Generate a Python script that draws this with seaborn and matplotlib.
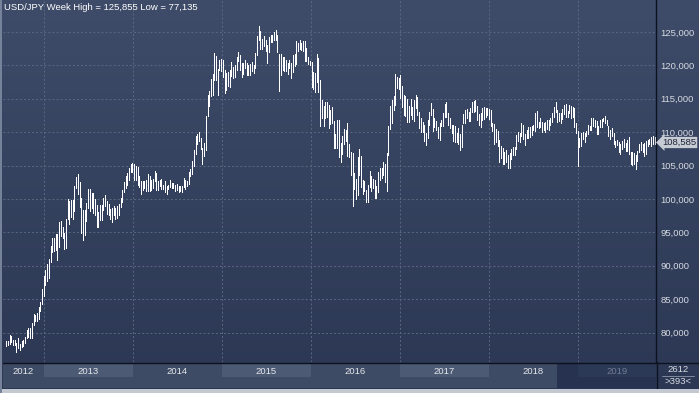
import numpy as np
import pandas as pd
import matplotlib
matplotlib.use("Agg")
import matplotlib.pyplot as plt
import matplotlib.dates as mdates
from matplotlib.colors import LinearSegmentedColormap
from matplotlib.patches import Rectangle
from matplotlib.lines import Line2D
import seaborn as sns

# USD/JPY weekly bars (high / low), first week starts 2012-07-30
start_week = "2012-07-30"

high_2012 = [78.75, 78.80, 79.65, 79.50, 78.90, 78.90, 78.40, 79.20, 78.30, 78.70, 78.90,
             79.30, 80.35, 80.70, 80.70, 81.50, 82.85, 82.60, 82.90, 83.90, 84.60, 86.60]
low_2012 = [77.95, 78.10, 78.30, 78.60, 78.20, 78.20, 77.135, 77.70, 77.40, 77.90, 78.00,
            78.40, 79.20, 79.40, 79.20, 79.20, 81.20, 81.70, 81.70, 82.10, 83.30, 84.30]

high_2013 = [88.40, 89.35, 90.20, 91.00, 92.95, 94.10, 94.20, 94.80, 94.75, 96.60, 96.70,
             95.75, 94.90, 97.05, 99.95, 99.70, 99.90, 99.90, 101.98, 103.30, 103.74, 102.50,
             100.10, 98.40, 98.30, 99.40, 101.55, 101.50, 100.90, 100.90, 99.95, 99.10, 98.05,
             99.15, 99.15, 100.20, 100.60, 99.70, 99.20, 98.50, 98.60, 99.00, 98.60, 98.90,
             99.30, 100.20, 101.40, 102.60, 103.40, 103.90, 104.60, 105.20, 105.45]
low_2013 = [85.50, 87.10, 87.80, 88.10, 90.50, 92.00, 92.20, 92.30, 90.85, 92.80, 94.50,
            94.10, 92.55, 92.60, 97.00, 96.20, 97.30, 97.00, 98.20, 101.60, 100.70, 98.85,
            94.95, 93.80, 94.60, 96.70, 98.70, 98.25, 98.60, 97.90, 97.60, 95.80, 95.80,
            96.80, 96.80, 98.40, 98.90, 97.75, 97.60, 96.95, 96.55, 97.60, 96.95, 97.15,
            97.60, 98.80, 99.60, 101.10, 101.60, 102.10, 102.80, 104.05, 104.05]

high_2014 = [105.20, 104.90, 104.85, 103.40, 102.70, 102.75, 102.75, 102.80, 103.75, 103.40,
             102.80, 103.00, 104.15, 103.85, 102.70, 102.85, 103.00, 102.15, 102.75, 101.90,
             102.05, 102.80, 102.35, 102.35, 102.10, 102.25, 102.00, 101.90, 102.00, 103.15,
             102.85, 102.65, 104.05, 104.50, 105.70, 107.40, 109.45, 109.75, 110.10, 109.10,
             107.70, 108.40, 112.50, 115.60, 116.10, 118.00, 118.70, 121.85, 121.40, 119.50,
             120.85, 121.00]
low_2014 = [102.85, 102.85, 102.10, 101.75, 100.75, 101.30, 101.65, 101.20, 101.20, 101.20,
            101.30, 101.70, 102.75, 101.30, 101.30, 101.90, 101.50, 101.45, 101.10, 100.80,
            101.45, 101.80, 101.60, 101.60, 101.25, 101.30, 101.10, 101.20, 101.10, 101.80,
            101.50, 101.90, 102.30, 103.50, 103.70, 104.90, 106.75, 108.30, 108.75, 107.50,
            105.20, 106.50, 107.40, 112.50, 113.85, 115.45, 115.50, 117.80, 117.80, 115.55,
            119.25, 119.10]

high_2015 = [120.80, 119.25, 118.90, 118.95, 119.25, 120.50, 119.75, 120.00, 121.30, 122.05,
             121.50, 120.40, 120.40, 120.85, 120.40, 120.10, 120.15, 120.50, 120.05, 121.85,
             124.45, 125.855, 125.10, 123.95, 124.45, 123.75, 123.00, 124.20, 124.60, 124.50,
             125.05, 125.30, 124.55, 121.70, 121.75, 121.30, 121.30, 120.75, 120.40, 120.75,
             120.35, 121.50, 121.75, 123.60, 123.35, 123.75, 123.35, 123.70, 123.60, 122.65,
             121.25, 120.70]
low_2015 = [118.25, 115.85, 116.35, 116.85, 116.80, 118.35, 118.15, 118.20, 119.35, 120.60,
            119.30, 118.30, 118.70, 119.60, 118.60, 118.50, 118.50, 119.20, 118.90, 119.60,
            121.50, 123.75, 122.45, 122.45, 122.85, 122.10, 120.40, 122.00, 123.50, 123.50,
            123.85, 123.80, 122.00, 116.15, 118.60, 119.25, 119.10, 119.20, 118.70, 119.65,
            118.05, 119.05, 119.90, 120.25, 122.20, 122.50, 122.25, 122.20, 120.60, 120.60,
            120.25, 120.10]

high_2016 = [120.55, 119.00, 118.90, 121.70, 121.05, 117.75, 114.85, 113.95, 114.55, 114.50,
             114.05, 113.35, 113.80, 111.75, 109.75, 111.90, 111.90, 108.40, 109.40, 110.55,
             110.35, 111.45, 108.20, 107.10, 106.85, 103.85, 103.05, 106.30, 107.50, 106.50,
             102.85, 102.65, 101.35, 102.05, 104.15, 103.40, 103.00, 102.80, 101.90, 104.10,
             104.65, 104.60, 105.55, 105.20, 106.95, 111.00, 113.90, 114.85, 115.35, 118.65,
             118.25, 118.10]
low_2016 = [116.70, 116.50, 115.95, 117.50, 116.05, 110.95, 112.10, 111.00, 112.20, 112.30,
            110.65, 111.25, 111.35, 107.65, 107.65, 107.70, 106.30, 105.55, 106.75, 108.25,
            108.70, 106.50, 106.25, 103.55, 99.00, 101.45, 99.95, 100.65, 103.65, 101.85,
            100.70, 101.25, 99.55, 99.55, 101.80, 101.20, 101.65, 100.10, 100.10, 101.05,
            102.80, 103.20, 103.55, 102.55, 101.20, 106.60, 110.55, 111.35, 113.25, 114.05,
            116.55, 116.50]

high_2017 = [118.60, 116.90, 115.60, 115.35, 115.00, 113.90, 114.95, 113.75, 114.75, 115.50,
             115.20, 113.00, 112.20, 111.60, 111.15, 109.95, 111.80, 112.95, 114.35, 113.50,
             112.10, 111.70, 110.80, 111.40, 111.80, 112.90, 114.20, 114.50, 112.85, 112.20,
             111.05, 111.05, 110.95, 109.85, 110.65, 109.75, 111.05, 112.70, 113.25, 113.45,
             113.00, 113.55, 114.45, 114.70, 114.75, 113.85, 112.75, 112.90, 113.55, 113.75,
             113.65, 113.55]
low_2017 = [115.05, 113.80, 112.55, 112.50, 111.60, 111.60, 112.60, 111.95, 111.70, 113.55,
            112.60, 110.65, 110.10, 110.10, 108.75, 108.15, 109.10, 111.05, 112.55, 110.25,
            110.85, 110.35, 109.10, 108.80, 110.90, 110.95, 112.25, 112.30, 111.05, 110.60,
            109.90, 108.70, 108.60, 108.60, 108.30, 107.30, 107.80, 111.45, 111.45, 112.20,
            111.70, 111.65, 113.05, 113.05, 113.10, 111.90, 111.10, 110.85, 111.90, 112.05,
            112.30, 112.60]

high_2018 = [113.40, 113.35, 111.35, 111.20, 110.50, 110.15, 108.80, 107.90, 107.65, 107.05,
             107.30, 106.60, 106.85, 107.50, 107.80, 107.80, 109.55, 110.05, 109.95, 111.40,
             111.10, 109.75, 110.30, 110.85, 110.75, 110.95, 111.15, 112.80, 113.15, 111.55,
             112.15, 111.50, 111.45, 111.50, 111.85, 111.85, 112.15, 112.85, 113.70, 114.55,
             113.35, 112.85, 112.80, 113.40, 114.05, 114.20, 113.20, 114.00, 113.85, 113.70,
             113.55, 111.40]
low_2018 = [112.05, 110.95, 110.20, 108.30, 108.50, 107.90, 105.55, 106.10, 105.25, 105.25,
            105.60, 104.60, 104.70, 106.05, 106.60, 106.55, 107.50, 108.65, 108.60, 109.40,
            108.95, 108.10, 109.10, 109.20, 109.35, 109.60, 110.30, 110.25, 110.75, 110.60,
            110.85, 110.10, 110.30, 110.10, 110.45, 110.40, 111.05, 111.60, 112.35, 113.00,
            111.60, 111.65, 111.40, 112.00, 112.65, 112.35, 112.30, 112.90, 112.20, 112.25,
            110.80, 109.95]

high_2019 = [110.20, 109.10, 109.90, 110.00, 109.95, 110.15, 111.15, 111.00, 112.10, 112.15,
             111.90, 111.70, 110.95, 111.80, 112.05, 112.15, 112.40, 111.80, 111.00, 110.35,
             110.65, 109.90, 108.70, 108.80, 108.55, 108.20, 108.65, 108.95, 108.45, 108.85,
             109.30, 107.10, 107.10, 106.90, 106.55, 107.25, 108.25, 108.50, 108.25, 108.45,
             108.65, 108.85, 108.95, 109.30, 109.50, 109.30]
low_2019 = [104.87, 107.75, 107.95, 109.05, 108.50, 109.40, 109.75, 110.30, 110.40, 111.00,
            110.80, 109.70, 109.70, 110.85, 110.85, 111.65, 111.35, 111.05, 109.50, 109.00,
            109.45, 108.25, 107.85, 108.10, 107.05, 106.75, 107.55, 107.80, 107.20, 107.20,
            106.80, 105.25, 105.05, 105.30, 104.45, 105.75, 107.00, 107.30, 107.05, 106.50,
            106.75, 107.95, 108.25, 107.90, 108.25, 108.25]

last_price = 108.585
week_high = 125.855
week_low = 77.135
y_ticks = [80, 85, 90, 95, 100, 105, 110, 115, 120, 125]
years = [2012, 2013, 2014, 2015, 2016, 2017, 2018, 2019]

sns.set_style("dark")
plt.rcParams["font.family"] = ["Liberation Sans", "DejaVu Sans"]

highs = high_2012 + high_2013 + high_2014 + high_2015 + high_2016 + high_2017 + high_2018 + high_2019
lows = low_2012 + low_2013 + low_2014 + low_2015 + low_2016 + low_2017 + low_2018 + low_2019
df = pd.DataFrame({"week": pd.date_range(start_week, periods=len(highs), freq="W-MON"),
                   "high": highs, "low": lows})
df["x"] = mdates.date2num(df["week"])

W, H = 699, 393
fig = plt.figure(figsize=(W / 100, H / 100), dpi=100)


def box(x0, y0, x1, y1):
    # pixel box (top-left origin) -> figure fraction
    return [x0 / W, 1 - y1 / H, (x1 - x0) / W, (y1 - y0) / H]


# background gradient
bg = fig.add_axes([0, 0, 1, 1])
grad = np.linspace(0, 1, 256).reshape(-1, 1)
bg.imshow(grad, aspect="auto", extent=[0, 1, 0, 1],
          cmap=LinearSegmentedColormap.from_list("bg", ["#3e4c69", "#2b3753"]))
bg.set_xlim(0, 1)
bg.set_ylim(0, 1)
bg.axis("off")

# main price panel
ax = fig.add_axes(box(3, 0, 656, 362))
ax.patch.set_alpha(0)
jan13 = mdates.date2num(pd.Timestamp("2013-01-01"))
jan19 = mdates.date2num(pd.Timestamp("2019-01-01"))
ppd = (578 - 44) / (jan19 - jan13)
xmin, xmax = jan13 - 41 / ppd, jan13 + 612 / ppd
ax.set_xlim(xmin, xmax)
ax.set_ylim(75.60, 129.79)

year_x = [mdates.date2num(pd.Timestamp(f"{y}-01-01")) for y in years]
ax.set_xticks(year_x[1:])
ax.set_yticks(y_ticks)
ax.set_yticklabels([f"{v:,.3f}".replace(".", ",") for v in y_ticks])
ax.yaxis.tick_right()
ax.tick_params(axis="y", length=0, pad=3, labelsize=6.8, labelcolor="#d6dae2")
ax.tick_params(axis="x", length=0, labelbottom=False)
ax.grid(True, color="#5b6883", ls=(0, (2, 2.2)), lw=0.7)
for s in ["top", "left", "bottom"]:
    ax.spines[s].set_visible(False)
ax.spines["right"].set_color("#0d1220")
ax.spines["right"].set_linewidth(1.0)

ax.vlines(df["x"], df["low"], df["high"], color="white", lw=0.55, antialiased=False)

fig.text(4 / W, 1 - 8 / H,
         f"USD/JPY Week High = {week_high:.3f} Low = {week_low:.3f}".replace(".", ","),
         color="white", fontsize=6.8, ha="left", va="center")

# last price tag
fig.text(662 / W, 1 - 142.5 / H, f"{last_price:.3f}".replace(".", ","), color="#1d2434",
         fontsize=6.8, ha="left", va="center",
         bbox=dict(boxstyle="larrow,pad=0.12", fc="#c6cbd4", ec="none"))

# year bar
yb = fig.add_axes(box(3, 363, 656, 388))
yb.set_xlim(xmin, xmax)
yb.set_ylim(0, 1)
yb.axis("off")
yb.add_patch(Rectangle((0, 0), 1, 1, transform=yb.transAxes, fc="#3e4b64", ec="none"))
band_top = 1.0
band_bot = 1 - 14 / 25
for i, y in enumerate(years[:-1]):
    if y % 2 == 1:
        yb.add_patch(Rectangle((year_x[i], band_bot), year_x[i + 1] - year_x[i], band_top - band_bot,
                               fc="#4c5a73", ec="none"))
dark0 = jan19 - 21 / ppd
yb.add_patch(Rectangle((dark0, 0), xmax - dark0, 1, fc="#263250", ec="none"))
yb.add_patch(Rectangle((jan19, band_bot), xmax - jan19, band_top - band_bot, fc="#2c3956", ec="none"))
for i, y in enumerate(years):
    a = max(year_x[i], xmin)
    b = min(year_x[i + 1], xmax) if i + 1 < len(years) else xmax
    yb.text((a + b) / 2, 0.68, str(y), ha="center", va="center", fontsize=6.8,
            color="#6f7b93" if y == 2019 else "#e4e7ec")

# right bottom cell
fig.text(678 / W, 1 - 369 / H, "2612", color="#d6dae2", fontsize=6.8, ha="center", va="center")
fig.text(678 / W, 1 - 381.5 / H, ">393<", color="#d6dae2", fontsize=6.8, ha="center", va="center")
fig.add_artist(Line2D([662 / W, 694 / W], [1 - 375.5 / H] * 2, color="#8d97aa", lw=0.6))

# frame lines
fig.add_artist(Line2D([3 / W, 1], [1 - 362.5 / H] * 2, color="#0d1220", lw=1.0))
fig.add_artist(Line2D([656.5 / W] * 2, [1 - 388 / H, 1 - 362 / H], color="#0d1220", lw=1.0))
fig.add_artist(Rectangle((0, 0), 1, 4 / H, transform=fig.transFigure, fc="#c3c8d1", ec="none"))
fig.add_artist(Rectangle((0, 0), 2 / W, 1, transform=fig.transFigure, fc="#76829a", ec="none"))

fig.savefig("out.png", dpi=100)
